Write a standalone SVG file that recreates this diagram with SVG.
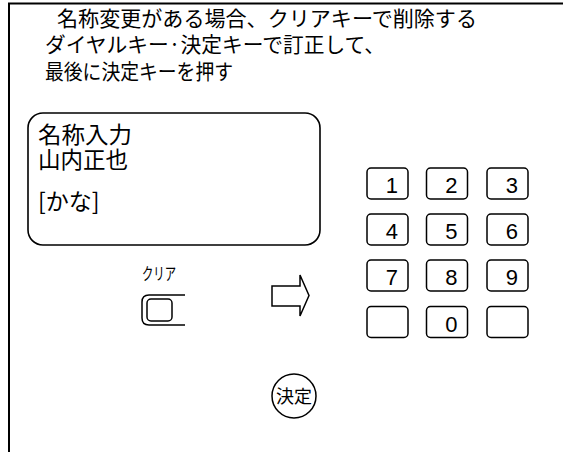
<svg xmlns="http://www.w3.org/2000/svg" width="563" height="452" viewBox="0 0 563 452">
<style>
.jp{font-family:"Noto Sans CJK JP","Noto Sans",sans-serif;fill:#000}
.num{font-family:"Liberation Sans",Arial,sans-serif;font-size:22px;fill:#000;text-anchor:end}
.key{fill:#fff;stroke:#000;stroke-width:1.5}
.ln{fill:none;stroke:#000}
</style>
<rect width="563" height="452" fill="#fff"/>
<g id="frame">
<path class="ln" stroke-width="2" d="M9,452 V3.5 H563"/>
</g>
<g id="instructions" class="jp" font-size="21">
<text x="57" y="26" textLength="420" lengthAdjust="spacingAndGlyphs">名称変更がある場合、クリアキーで削除する</text>
<text x="45" y="52" textLength="340" lengthAdjust="spacingAndGlyphs">ダイヤルキー·決定キーで訂正して、</text>
<text x="45" y="79" textLength="188" lengthAdjust="spacingAndGlyphs">最後に決定キーを押す</text>
</g>
<g id="display">
<rect class="ln" x="28" y="113" width="292" height="132" rx="15" stroke-width="1.6"/>
<g class="jp" font-size="23">
<text x="38" y="143" textLength="94" lengthAdjust="spacingAndGlyphs">名称入力</text>
<text x="38" y="168" textLength="90" lengthAdjust="spacingAndGlyphs">山内正也</text>
<text x="38" y="210">[かな]</text>
</g>
</g>
<g id="clear-key">
<text class="jp" x="142" y="280" font-size="17" textLength="34" lengthAdjust="spacingAndGlyphs">クリア</text>
<path class="ln" stroke-width="1.5" d="M185,295 H149 Q142,295 142,302 V318 Q142,325 149,325 H185"/>
<rect class="ln" x="147" y="299" width="25" height="22" rx="4" stroke-width="1.5"/>
</g>
<g id="connectors">
<path class="ln" stroke-width="1.5" stroke-linejoin="miter" d="M272,286 H300 V275 L309,295.5 L300,316 V306 H272 Z"/>
</g>
<g id="keypad">
<g id="key-1"><rect class="key" x="367" y="168" width="41" height="31" rx="4"/><text class="num" x="398" y="193">1</text></g>
<g id="key-2"><rect class="key" x="426.5" y="168" width="41" height="31" rx="4"/><text class="num" x="457.5" y="193">2</text></g>
<g id="key-3"><rect class="key" x="487" y="168" width="41" height="31" rx="4"/><text class="num" x="518" y="193">3</text></g>
<g id="key-4"><rect class="key" x="367" y="214" width="41" height="31" rx="4"/><text class="num" x="398" y="239">4</text></g>
<g id="key-5"><rect class="key" x="426.5" y="214" width="41" height="31" rx="4"/><text class="num" x="457.5" y="239">5</text></g>
<g id="key-6"><rect class="key" x="487" y="214" width="41" height="31" rx="4"/><text class="num" x="518" y="239">6</text></g>
<g id="key-7"><rect class="key" x="367" y="260" width="41" height="31" rx="4"/><text class="num" x="398" y="285">7</text></g>
<g id="key-8"><rect class="key" x="426.5" y="260" width="41" height="31" rx="4"/><text class="num" x="457.5" y="285">8</text></g>
<g id="key-9"><rect class="key" x="487" y="260" width="41" height="31" rx="4"/><text class="num" x="518" y="285">9</text></g>
<g id="key-blank-left"><rect class="key" x="367" y="306.5" width="41" height="31" rx="4"/></g>
<g id="key-0"><rect class="key" x="426.5" y="306.5" width="41" height="31" rx="4"/><text class="num" x="457.5" y="331.5">0</text></g>
<g id="key-blank-right"><rect class="key" x="487" y="306.5" width="41" height="31" rx="4"/></g>
</g>
<g id="enter-key">
<circle class="ln" cx="294" cy="396" r="22" stroke-width="1.5"/>
<text class="jp" x="294" y="402.5" font-size="18" text-anchor="middle" textLength="36" lengthAdjust="spacingAndGlyphs">決定</text>
</g>
</svg>
